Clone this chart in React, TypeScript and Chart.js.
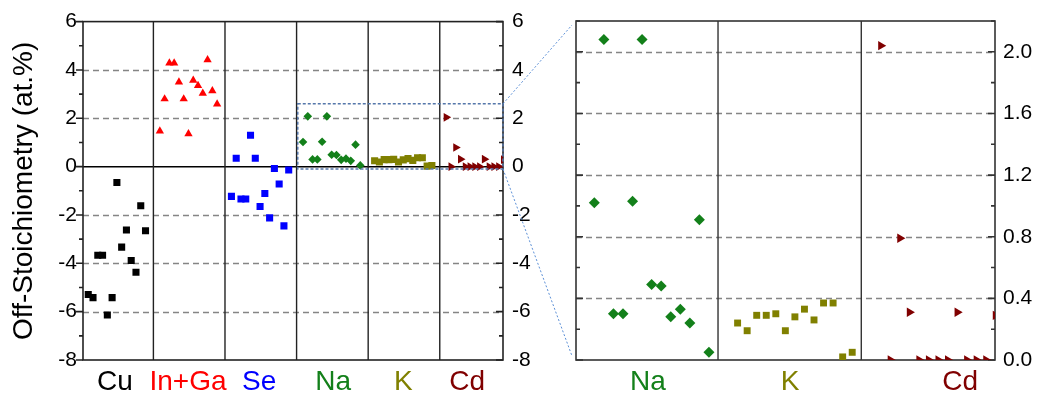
import React, { useEffect, useRef } from 'react';
import { Chart, registerables } from 'chart.js';

Chart.register(...registerables);

// ---------- data ----------
const CATEGORIES = ['Cu', 'In+Ga', 'Se', 'Na', 'K', 'Cd'];
const CATEGORY_COLORS = ['#000000', '#ff0000', '#0000ff', '#13801a', '#808000', '#800000'];

const CU = [-5.29, -5.42, -3.67, -3.67, -6.14, -5.42, -0.66, -3.33, -2.62, -3.88, -4.37, -1.62, -2.65];
const IN_GA = [1.47, 2.8, 4.28, 4.28, 3.5, 2.8, 1.36, 3.57, 3.35, 3.03, 4.42, 3.14, 2.59];
const SE = [-1.23, 0.35, -1.34, -1.34, 1.3, 0.35, -1.65, -1.11, -2.12, -0.08, -0.72, -2.45, -0.14];
const NA = [1.02, 2.08, 0.3, 0.3, 1.03, 2.08, 0.49, 0.48, 0.28, 0.33, 0.24, 0.91, 0.05];
const K = [0.24, 0.19, 0.29, 0.29, 0.3, 0.19, 0.28, 0.33, 0.26, 0.37, 0.37, 0.02, 0.05];
const CD = [2.04, 0, 0.79, 0.31, 0, 0, 0, 0, 0.31, 0, 0, 0, 0.29];

const SERIES = [CU, IN_GA, SE, NA, K, CD];

// sample slots: 15 slots per element group, first sample 1.1 slots in
const SLOTS_PER_GROUP = 15;
const FIRST_SLOT = 1.1;

// left (full) panel
const LEFT_X_RANGE = [0, 88];
const LEFT_Y_RANGE = [-8, 6];
const LEFT_SEPARATORS = [14.75, 29.75, 44.75, 59.75, 74.75];
const LEFT_LABEL_POS = [6.7, 22, 36.9, 52.4, 67.1, 80.5];
const LEFT_GRID_VALUES = [4, 2, -2, -4, -6];

// zoom box (in left-panel data units)
const ZOOM_X = [45, 88];
const ZOOM_Y = [-0.1, 2.6];

// right (zoomed) panel
const RIGHT_CATS = [3, 4, 5];
const RIGHT_X_RANGE = [44.18, 88.05];
const RIGHT_Y_RANGE = [0, 2.2];
const RIGHT_SEPARATORS = [59.05, 74.05];
const RIGHT_LABEL_POS = [51.7, 66.6, 84.4];
const RIGHT_GRID_VALUES = [0.4, 0.8, 1.2, 1.6, 2.0];

const FONT = '"Liberation Sans", Arial, Helvetica, sans-serif';

const STYLE_LEFT = [
  { pointStyle: 'rect', radius: 5, rotation: 0 },
  { pointStyle: 'triangle', radius: 4.8, rotation: 0 },
  { pointStyle: 'rect', radius: 5, rotation: 0 },
  { pointStyle: 'rectRot', radius: 4.3, rotation: 0 },
  { pointStyle: 'rect', radius: 5, rotation: 0 },
  { pointStyle: 'triangle', radius: 5, rotation: 90 },
];
const STYLE_RIGHT = [
  null, null, null,
  { pointStyle: 'rectRot', radius: 5.5, rotation: 0 },
  { pointStyle: 'rect', radius: 4.9, rotation: 0 },
  { pointStyle: 'triangle', radius: 5.4, rotation: 90 },
];

function buildDatasets(cats: number[], styles: any[]) {
  return cats.map((c) => ({
    label: CATEGORIES[c],
    data: SERIES[c].map((v, i) => ({ x: c * SLOTS_PER_GROUP + FIRST_SLOT + i, y: v })),
    backgroundColor: CATEGORY_COLORS[c],
    borderColor: CATEGORY_COLORS[c],
    borderWidth: 0,
    pointStyle: styles[c].pointStyle,
    pointRadius: styles[c].radius,
    pointRotation: styles[c].rotation,
    pointHoverRadius: styles[c].radius,
    showLine: false,
    clip: 0,
  }));
}

type DecorOpts = {
  separators: number[];
  gridValues: number[];
  zeroLine: boolean;
  minorStep: number;
  majorStep: number;
  leftTicksOut: boolean;
  boxColor: string;
  zoomBox?: boolean;
};

function decorPlugin(o: DecorOpts) {
  return {
    id: 'decor',
    beforeDatasetsDraw(chart: any) {
      const { ctx, chartArea: a, scales } = chart;
      const xs = scales.x;
      const ys = scales.y;
      ctx.save();
      // dashed grid
      ctx.strokeStyle = '#858585';
      ctx.lineWidth = 1.3;
      ctx.setLineDash([6, 4]);
      o.gridValues.forEach((v) => {
        const y = Math.round(ys.getPixelForValue(v)) + 0.5;
        ctx.beginPath();
        ctx.moveTo(a.left, y);
        ctx.lineTo(a.right, y);
        ctx.stroke();
      });
      ctx.setLineDash([]);
      // zero line
      if (o.zeroLine) {
        const y = ys.getPixelForValue(0);
        ctx.strokeStyle = '#000';
        ctx.lineWidth = 1.5;
        ctx.beginPath();
        ctx.moveTo(a.left, y);
        ctx.lineTo(a.right, y);
        ctx.stroke();
      }
      // separators
      ctx.strokeStyle = o.boxColor;
      ctx.lineWidth = 1.4;
      o.separators.forEach((v) => {
        const x = xs.getPixelForValue(v);
        ctx.beginPath();
        ctx.moveTo(x, a.top);
        ctx.lineTo(x, a.bottom);
        ctx.stroke();
      });
      // box
      ctx.lineWidth = 1.6;
      ctx.strokeRect(a.left, a.top, a.right - a.left, a.bottom - a.top);
      // ticks
      const min = ys.min;
      const max = ys.max;
      const n = Math.round((max - min) / o.minorStep);
      for (let i = 0; i <= n; i++) {
        const v = min + i * o.minorStep;
        const r = v / o.majorStep;
        const major = Math.abs(r - Math.round(r)) < 1e-6;
        const len = major ? 7 : 4;
        const y = ys.getPixelForValue(v);
        ctx.beginPath();
        if (o.leftTicksOut) {
          ctx.moveTo(a.left - len, y);
          ctx.lineTo(a.left, y);
        } else {
          ctx.moveTo(a.left, y);
          ctx.lineTo(a.left + len, y);
        }
        ctx.moveTo(a.right - len, y);
        ctx.lineTo(a.right, y);
        ctx.stroke();
      }
      ctx.restore();
    },
    afterDatasetsDraw(chart: any) {
      if (!o.zoomBox) return;
      const { ctx, scales } = chart;
      const x0 = scales.x.getPixelForValue(ZOOM_X[0]);
      const x1 = scales.x.getPixelForValue(ZOOM_X[1]);
      const y0 = scales.y.getPixelForValue(ZOOM_Y[1]);
      const y1 = scales.y.getPixelForValue(ZOOM_Y[0]);
      ctx.save();
      ctx.strokeStyle = '#5577aa';
      ctx.lineWidth = 1.5;
      ctx.setLineDash([3, 2]);
      ctx.strokeRect(x0, y0, x1 - x0, y1 - y0);
      ctx.restore();
    },
  };
}

function xAxis(range: number[], labelPos: number[], cats: number[], height: number) {
  return {
    type: 'linear',
    position: 'bottom',
    min: range[0],
    max: range[1],
    grid: { display: false, drawTicks: false },
    border: { display: false },
    afterBuildTicks: (s: any) => {
      s.ticks = labelPos.map((v) => ({ value: v }));
    },
    ticks: {
      autoSkip: false,
      maxRotation: 0,
      minRotation: 0,
      padding: 5,
      font: { size: 28, family: FONT },
      color: (ctx: any) => CATEGORY_COLORS[cats[ctx.index]],
      callback: (_v: any, i: number) => CATEGORIES[cats[i]],
    },
    afterFit: (s: any) => {
      s.height = height;
    },
  };
}

const LEFT_W = 540;
const RIGHT_L = 540;
const RIGHT_W = 497;
const H = 394;

export default function App() {
  const leftRef = useRef<HTMLCanvasElement>(null);
  const rightRef = useRef<HTMLCanvasElement>(null);
  const overlayRef = useRef<HTMLCanvasElement>(null);

  useEffect(() => {
    document.body.style.margin = '0';
    Chart.defaults.font.family = FONT;
    Chart.defaults.color = '#000';

    const leftCats = [0, 1, 2, 3, 4, 5];
    const left = new Chart(leftRef.current as HTMLCanvasElement, {
      type: 'scatter',
      data: { datasets: buildDatasets(leftCats, STYLE_LEFT) as any },
      options: {
        responsive: false,
        animation: false,
        events: [],
        layout: { padding: { top: 20, left: 0, right: 0, bottom: 0 } },
        plugins: { legend: { display: false }, tooltip: { enabled: false } },
        scales: {
          x: xAxis(LEFT_X_RANGE, LEFT_LABEL_POS, leftCats, 34) as any,
          y: {
            type: 'linear',
            position: 'left',
            min: LEFT_Y_RANGE[0],
            max: LEFT_Y_RANGE[1],
            grid: { display: false, drawTicks: false },
            border: { display: false },
            ticks: {
              stepSize: 1,
              autoSkip: false,
              padding: 6,
              font: { size: 21, family: FONT },
              color: '#000',
              callback: (v: any) => (Number(v) % 2 === 0 ? String(v) : ''),
            },
            title: {
              display: true,
              text: 'Off-Stoichiometry (at.%)',
              font: { size: 28, family: FONT },
              color: '#000',
              padding: { top: 7, bottom: 0 },
            },
            afterFit: (s: any) => {
              s.width = 83;
            },
          },
          y2: {
            type: 'linear',
            position: 'right',
            min: LEFT_Y_RANGE[0],
            max: LEFT_Y_RANGE[1],
            grid: { display: false, drawTicks: false },
            border: { display: false },
            ticks: {
              stepSize: 1,
              autoSkip: false,
              padding: 9,
              font: { size: 21, family: FONT },
              color: '#000',
              callback: (v: any) => (Number(v) % 2 === 0 ? String(v) : ''),
            },
            afterFit: (s: any) => {
              s.width = 37;
            },
          },
        },
      } as any,
      plugins: [
        decorPlugin({
          separators: LEFT_SEPARATORS,
          gridValues: LEFT_GRID_VALUES,
          zeroLine: true,
          minorStep: 1,
          majorStep: 2,
          leftTicksOut: true,
          boxColor: '#222',
          zoomBox: true,
        }) as any,
      ],
    });

    const right = new Chart(rightRef.current as HTMLCanvasElement, {
      type: 'scatter',
      data: { datasets: buildDatasets(RIGHT_CATS, STYLE_RIGHT) as any },
      options: {
        responsive: false,
        animation: false,
        events: [],
        layout: { padding: { top: 21, left: 0, right: 0, bottom: 0 } },
        plugins: { legend: { display: false }, tooltip: { enabled: false } },
        scales: {
          x: xAxis(RIGHT_X_RANGE, RIGHT_LABEL_POS, RIGHT_CATS, 34) as any,
          y: {
            type: 'linear',
            position: 'left',
            min: RIGHT_Y_RANGE[0],
            max: RIGHT_Y_RANGE[1],
            grid: { display: false, drawTicks: false },
            border: { display: false },
            ticks: { display: false, stepSize: 0.2 },
            afterFit: (s: any) => {
              s.width = 36;
            },
          },
          y2: {
            type: 'linear',
            position: 'right',
            min: RIGHT_Y_RANGE[0],
            max: RIGHT_Y_RANGE[1],
            grid: { display: false, drawTicks: false },
            border: { display: false },
            ticks: {
              stepSize: 0.2,
              autoSkip: false,
              padding: 8,
              font: { size: 21, family: FONT },
              color: '#000',
              callback: (v: any) => (Math.round(Number(v) * 10) % 4 === 0 ? Number(v).toFixed(1) : ''),
            },
            afterFit: (s: any) => {
              s.width = 42;
            },
          },
        },
      } as any,
      plugins: [
        decorPlugin({
          separators: RIGHT_SEPARATORS,
          gridValues: RIGHT_GRID_VALUES,
          zeroLine: false,
          minorStep: 0.2,
          majorStep: 0.4,
          leftTicksOut: false,
          boxColor: '#333',
        }) as any,
      ],
    });

    // connector lines between zoom box and zoomed panel
    const oc = overlayRef.current as HTMLCanvasElement;
    const ctx = oc.getContext('2d') as CanvasRenderingContext2D;
    ctx.clearRect(0, 0, oc.width, oc.height);
    const bx = left.scales.x.getPixelForValue(ZOOM_X[1]);
    const byTop = left.scales.y.getPixelForValue(ZOOM_Y[1]);
    const byBot = left.scales.y.getPixelForValue(ZOOM_Y[0]);
    const ra = right.chartArea;
    ctx.save();
    ctx.strokeStyle = '#5b8fd6';
    ctx.lineWidth = 1;
    ctx.setLineDash([2, 2]);
    ctx.beginPath();
    ctx.moveTo(bx, byTop);
    ctx.lineTo(RIGHT_L + ra.left - 4, ra.top + 4);
    ctx.moveTo(bx, byBot);
    ctx.lineTo(RIGHT_L + ra.left - 4, ra.bottom - 4);
    ctx.stroke();
    ctx.restore();

    return () => {
      left.destroy();
      right.destroy();
    };
  }, []);

  return (
    <div style={{ position: 'relative', width: 1037, height: H, background: '#fff' }}>
      <canvas ref={leftRef} width={LEFT_W} height={H} style={{ position: 'absolute', left: 0, top: 0 }} />
      <canvas ref={rightRef} width={RIGHT_W} height={H} style={{ position: 'absolute', left: RIGHT_L, top: 0 }} />
      <canvas
        ref={overlayRef}
        width={1037}
        height={H}
        style={{ position: 'absolute', left: 0, top: 0, pointerEvents: 'none' }}
      />
    </div>
  );
}
